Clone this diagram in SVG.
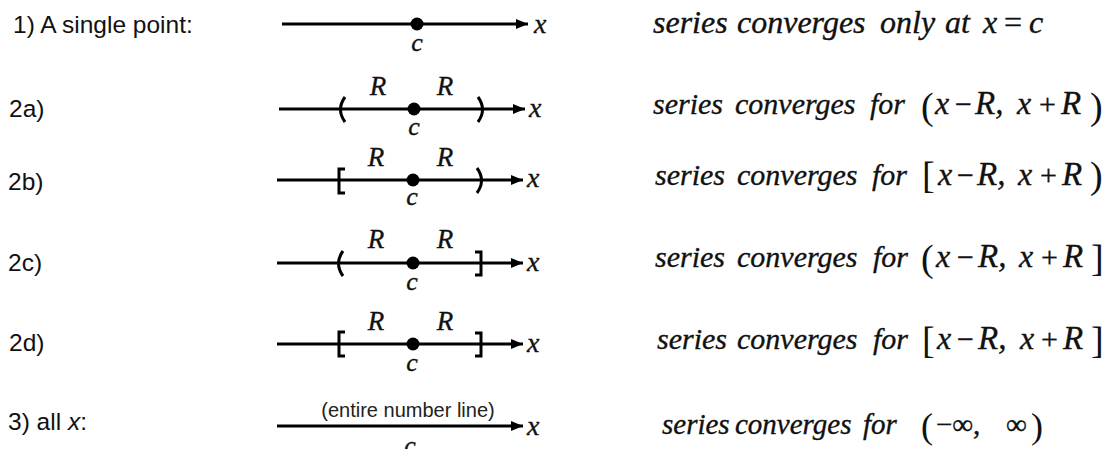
<svg xmlns="http://www.w3.org/2000/svg" width="1112" height="449" viewBox="0 0 1112 449">
  <defs>
    <marker id="arrow" markerUnits="userSpaceOnUse" markerWidth="13" markerHeight="10" refX="12" refY="5" orient="auto">
      <path d="M0,0 L12,5 L0,10 z" fill="#000"/>
    </marker>
    <style>
      .lbl { font-family: "Liberation Sans", Arial, sans-serif; font-size: 24.5px; fill: #111; }
      .note { font-family: "Liberation Sans", Arial, sans-serif; font-size: 20px; fill: #222; }
      .it { font-family: "Liberation Serif", "Times New Roman", serif; font-style: italic; fill: #111; stroke: #111; stroke-width: 0.35; }
      .up { font-family: "Liberation Serif", "Times New Roman", serif; font-style: normal; fill: #111; }
      .eq { font-size: 30px; }
      .big { font-size: 32px; }
      .mx { font-size: 32px; }
      .Rm { font-size: 33px; }
      .R { font-size: 27px; }
      .c { font-size: 26px; }
      .x { font-size: 28px; }
      .axis { stroke: #000; stroke-width: 3; fill: none; marker-end: url(#arrow); }
      .end { stroke: #000; stroke-width: 3; fill: none; }
    </style>
  </defs>
  <rect width="1112" height="449" fill="#fff"/>

  <!-- number lines -->
  <g id="axes">
    <line class="axis" x1="282" y1="24" x2="528" y2="24"/>
    <line class="axis" x1="279" y1="109" x2="525" y2="109"/>
    <line class="axis" x1="277" y1="180" x2="523" y2="180"/>
    <line class="axis" x1="277" y1="263" x2="523" y2="263"/>
    <line class="axis" x1="277" y1="344" x2="523" y2="344"/>
    <line class="axis" x1="277" y1="426" x2="523" y2="426"/>
  </g>

  <!-- 1) single point -->
  <g id="case-1">
    <text class="lbl" x="13" y="33">1) A single point:</text>
    <circle cx="417" cy="24" r="6.5" fill="#000"/>
    <text class="it c" x="417" y="51" text-anchor="middle">c</text>
    <text class="it x" x="534" y="33">x</text>
    <text class="it big" y="33"><tspan x="653">series</tspan><tspan x="737">converges</tspan><tspan x="880">only</tspan><tspan x="945">at</tspan><tspan x="983">x</tspan><tspan class="up" x="1004">=</tspan><tspan x="1029">c</tspan></text>
  </g>

  <!-- 2a) open interval -->
  <g id="case-2a">
    <text class="lbl" x="9" y="117">2a)</text>
    <path class="end" d="M345,97 Q336,109.5 345,122"/>
    <path class="end" d="M478,97 Q487,109.5 478,122"/>
    <circle cx="414" cy="109" r="6.5" fill="#000"/>
    <text class="it R" x="378" y="95" text-anchor="middle">R</text>
    <text class="it R" x="445" y="95" text-anchor="middle">R</text>
    <text class="it c" x="414" y="135" text-anchor="middle">c</text>
    <text class="it x" x="529" y="117">x</text>
    <text class="it eq" y="114"><tspan x="653">series</tspan><tspan x="735">converges</tspan><tspan x="870">for</tspan><tspan class="mx" x="935">x</tspan><tspan class="up" x="955">−</tspan><tspan class="Rm" x="975">R,</tspan><tspan class="mx" x="1017">x</tspan><tspan class="up" x="1039">+</tspan><tspan class="Rm" x="1061">R</tspan></text>
    <text class="up" font-size="38" y="119"><tspan x="921">(</tspan><tspan x="1090">)</tspan></text>
  </g>

  <!-- 2b) closed left, open right -->
  <g id="case-2b">
    <text class="lbl" x="8" y="190">2b)</text>
    <path class="end" d="M345,169 H339 V193 H345"/>
    <path class="end" d="M477,168 Q486,180.5 477,193"/>
    <circle cx="413" cy="180" r="6.5" fill="#000"/>
    <text class="it R" x="376" y="166" text-anchor="middle">R</text>
    <text class="it R" x="445" y="166" text-anchor="middle">R</text>
    <text class="it c" x="412" y="205" text-anchor="middle">c</text>
    <text class="it x" x="527" y="187">x</text>
    <text class="it eq" y="185"><tspan x="655">series</tspan><tspan x="737">converges</tspan><tspan x="872">for</tspan><tspan class="mx" x="938">x</tspan><tspan class="up" x="957">−</tspan><tspan class="Rm" x="977">R,</tspan><tspan class="mx" x="1018">x</tspan><tspan class="up" x="1040">+</tspan><tspan class="Rm" x="1062">R</tspan></text>
    <text class="up" font-size="38" y="188"><tspan x="922">[</tspan><tspan x="1090">)</tspan></text>
  </g>

  <!-- 2c) open left, closed right -->
  <g id="case-2c">
    <text class="lbl" x="8" y="271">2c)</text>
    <path class="end" d="M343,251 Q334,263.5 343,276"/>
    <path class="end" d="M475,252 H481 V275 H475"/>
    <circle cx="413" cy="263" r="6.5" fill="#000"/>
    <text class="it R" x="376" y="248" text-anchor="middle">R</text>
    <text class="it R" x="445" y="248" text-anchor="middle">R</text>
    <text class="it c" x="412" y="290" text-anchor="middle">c</text>
    <text class="it x" x="527" y="271">x</text>
    <text class="it eq" y="267"><tspan x="655">series</tspan><tspan x="737">converges</tspan><tspan x="873">for</tspan><tspan class="mx" x="936">x</tspan><tspan class="up" x="957">−</tspan><tspan class="Rm" x="978">R,</tspan><tspan class="mx" x="1019">x</tspan><tspan class="up" x="1041">+</tspan><tspan class="Rm" x="1063">R</tspan></text>
    <text class="up" font-size="38" y="271"><tspan x="921">(</tspan><tspan x="1091">]</tspan></text>
  </g>

  <!-- 2d) closed interval -->
  <g id="case-2d">
    <text class="lbl" x="9" y="351">2d)</text>
    <path class="end" d="M345,332 H339 V356 H345"/>
    <path class="end" d="M475,333 H481 V356 H475"/>
    <circle cx="413" cy="344" r="6.5" fill="#000"/>
    <text class="it R" x="376" y="330" text-anchor="middle">R</text>
    <text class="it R" x="445" y="330" text-anchor="middle">R</text>
    <text class="it c" x="412" y="371" text-anchor="middle">c</text>
    <text class="it x" x="527" y="352">x</text>
    <text class="it eq" y="349"><tspan x="657">series</tspan><tspan x="737">converges</tspan><tspan x="873">for</tspan><tspan class="mx" x="937">x</tspan><tspan class="up" x="957">−</tspan><tspan class="Rm" x="978">R,</tspan><tspan class="mx" x="1020">x</tspan><tspan class="up" x="1041">+</tspan><tspan class="Rm" x="1063">R</tspan></text>
    <text class="up" font-size="38" y="353"><tspan x="922">[</tspan><tspan x="1091">]</tspan></text>
  </g>

  <!-- 3) all x -->
  <g id="case-3">
    <text class="lbl" x="8" y="430">3) all <tspan font-style="italic">x</tspan>:</text>
    <text class="note" x="408" y="417" text-anchor="middle">(entire number line)</text>
    <text class="it c" x="410" y="454" text-anchor="middle">c</text>
    <text class="it x" x="527" y="435">x</text>
    <text class="it" font-size="29" y="434"><tspan x="662">series</tspan><tspan x="735">converges</tspan><tspan x="863">for</tspan><tspan class="up" x="936">−∞,</tspan><tspan class="up" x="1006">∞</tspan></text>
    <text class="up" font-size="36" y="438"><tspan x="921">(</tspan><tspan x="1031">)</tspan></text>
  </g>
</svg>
